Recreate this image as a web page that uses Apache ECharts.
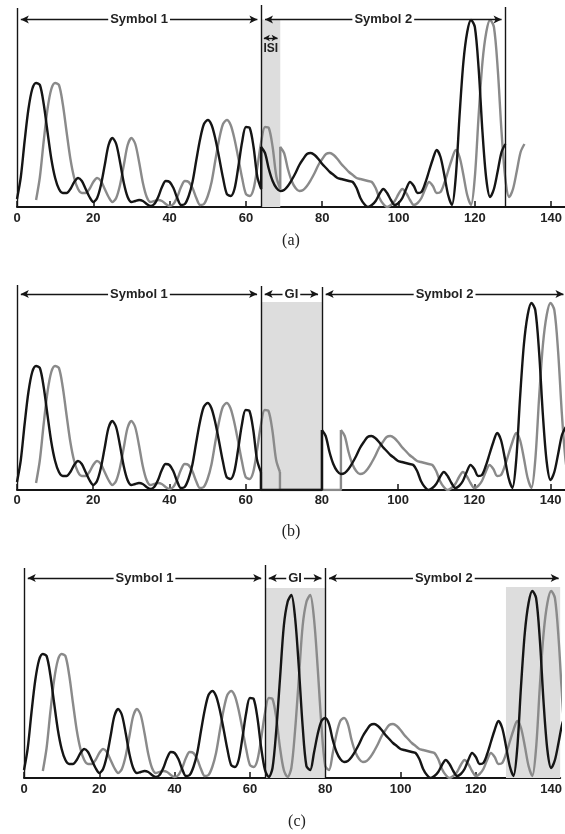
<!DOCTYPE html>
<html>
<head>
<meta charset="utf-8">
<script src="https://cdn.jsdelivr.net/npm/echarts@6/dist/echarts.min.js"></script>
<style>
html, body { margin: 0; background: #fff; }
#chart { width: 565px; height: 834px; }
</style>
</head>
<body>
<div id="chart"></div>
<script>
// received amplitude per sample (one value per sample, 0..64)
const sym1Black = [8, 30, 66, 98, 118, 124, 122, 103, 75, 48, 29, 18, 14, 14, 18, 25, 29, 26, 18, 10,
	5, 9, 22, 42, 62, 69, 63, 45, 24, 10, 5, 6, 7, 6, 3, 1, 3, 10, 20, 26,
	25, 19, 9, 2, 3, 11, 25, 47, 68, 83, 87, 82, 68, 49, 29, 13, 11, 18, 40, 65,
	80, 79, 60, 30, 18]
const sym2Black = [60, 54, 38, 26, 19, 16, 17, 21, 27, 34, 42, 48, 53, 54, 52, 48, 43, 39, 35, 32,
	29, 28, 27, 26, 25, 19, 9, 3, 0, 2, 6, 13, 18, 14, 7, 2, 4, 9, 18, 25,
	21, 14, 15, 24, 36, 48, 57, 50, 32, 12, 2, 30, 92, 145, 175, 187, 180, 138, 75, 28,
	10, 18, 36, 55, 63]
// cyclic prefix copied into the guard interval in (c), samples 64..80
const prefixBlack = [8, 1, 10, 48, 100, 152, 176, 183, 160, 110, 52, 12, 8, 25, 44, 57, 60]

// delayed echo (grey curve)
const sym1Gray = [7, 30, 66, 98, 118, 124, 122, 103, 75, 48, 29, 18, 14, 14, 18, 25, 29, 26, 18, 10,
	5, 9, 22, 42, 62, 69, 63, 45, 24, 10, 5, 6, 7, 6, 3, 1, 3, 10, 20, 26,
	25, 19, 9, 2, 3, 11, 25, 47, 68, 83, 87, 82, 68, 49, 29, 13, 11, 18, 40, 65,
	80, 79, 60, 30, 18]
const sym2Gray = [60, 54, 38, 26, 19, 16, 17, 21, 27, 34, 42, 48, 53, 54, 52, 48, 43, 39, 35, 32,
	29, 28, 27, 26, 25, 19, 9, 3, 0, 2, 6, 13, 18, 14, 7, 2, 4, 9, 18, 25,
	21, 14, 15, 24, 36, 48, 57, 50, 32, 12, 2, 30, 92, 145, 175, 187, 180, 138, 75, 28,
	10, 18, 36, 55, 63]
const prefixGray = [8, 1, 10, 48, 100, 152, 176, 183, 160, 110, 52, 12, 8, 25, 44, 57, 60]

const xTicks = [0, 20, 40, 60, 80, 100, 120, 140]
const SYMBOL_LEN = 64
const GUARD_LEN = 16
const ECHO_DELAY = 5

const BLACK = '#151515'
const GRAY = '#8a8a8a'
const SHADE = '#dddddd'
const FONT = 'Liberation Sans'

// grid geometry per panel: y unit = 1 px
const grids = [
	{ left: 17, top: 0, width: 548, height: 207, max: 143.5 },
	{ left: 17, top: 280, width: 548, height: 210, max: 143.8 },
	{ left: 24, top: 563, width: 541, height: 215, max: 142.4 },
]

/** samples -> [x, y] starting at x = start */
function seg(vals, start) {
	return vals.map((v, i) => [start + i, v])
}

function curve(data, color, idx, smooth, marks) {
	const s = {
		type: 'line',
		xAxisIndex: idx,
		yAxisIndex: idx,
		data: data,
		smooth: smooth ? 0.3 : false,
		symbol: 'none',
		silent: true,
		lineStyle: { color: color, width: 2.4 },
		z: color === BLACK ? 4 : 3,
	}
	if (marks) Object.assign(s, marks)
	return s
}

// vertical marker line
function vline(x, top) {
	return [
		{ coord: [x, 0], symbol: 'none', label: { show: false } },
		{ coord: [x, top], symbol: 'none' },
	]
}
// double-headed dimension arrow with text
function arrow(x0, x1, y, text) {
	const inset = 1
	return [
		{ coord: [x0 + inset, y], symbol: 'arrow', name: text, label: { show: true } },
		{ coord: [x1 - inset, y], symbol: 'arrow' },
	]
}
// small arrow with its text underneath (ISI)
function smallArrow(x0, x1, y, text) {
	const inset = 0.7
	const size = [5, 6]
	return [
		{
			coord: [x0 + inset, y],
			symbol: 'arrow',
			symbolSize: size,
			name: text,
			label: {
				show: true,
				position: 'insideMiddleBottom',
				distance: 5,
				verticalAlign: 'top',
				backgroundColor: 'transparent',
				padding: 0,
				fontSize: 12,
			},
		},
		{ coord: [x1 - inset, y], symbol: 'arrow', symbolSize: size },
	]
}
function shade(x0, x1, top) {
	return [{ coord: [x0, 0] }, { coord: [x1, top] }]
}
function marks(lines, areas) {
	return {
		markLine: {
			silent: true,
			animation: false,
			symbolSize: [6, 8],
			lineStyle: { color: BLACK, width: 1.4, type: 'solid' },
			label: {
				position: 'middle',
				distance: 0,
				verticalAlign: 'middle',
				formatter: (p) => p.name,
				color: '#222',
				fontFamily: FONT,
				fontWeight: 'bold',
				fontSize: 13,
				backgroundColor: '#fff',
				padding: [0, 2],
			},
			emphasis: { disabled: true },
			data: lines,
		},
		markArea: {
			silent: true,
			animation: false,
			itemStyle: { color: SHADE },
			data: areas,
		},
	}
}

const S = SYMBOL_LEN
const G = GUARD_LEN
const D = ECHO_DELAY
const last = (a) => a[a.length - 1]

const series = []

// (a) no guard interval: echo of symbol 1 spills into symbol 2 (ISI)
series.push(
	curve(seg(sym1Black, 0).concat(seg(sym2Black, S)), BLACK, 0, true,
		marks(
			[vline(0, 199), vline(S, 202), vline(2 * S, 200),
				arrow(0, S, 187.5, 'Symbol 1'), arrow(S, 2 * S, 187.5, 'Symbol 2'),
				smallArrow(S, S + D, 169, 'ISI')],
			[shade(S, S + D, 187.5)]
		)),
	curve(seg(sym1Gray, D).concat(seg(sym2Gray, S + D)), GRAY, 0, true)
)

// (b) empty guard interval
series.push(
	curve(seg(sym1Black, 0), BLACK, 1, true,
		marks(
			[vline(0, 205), vline(S, 204), vline(S + G, 203),
				arrow(0, S, 196, 'Symbol 1'), arrow(S, S + G, 196, 'GI'),
				arrow(S + G, grids[1].max + 0.6, 196, 'Symbol 2')],
			[shade(S, S + G, 188)]
		)),
	curve([[S, last(sym1Black)], [S, 0], [S + G, 0], [S + G, sym2Black[0]]], BLACK, 1, false),
	curve(seg(sym2Black, S + G), BLACK, 1, true),
	curve(seg(sym1Gray, D), GRAY, 1, true),
	curve([[S + D, last(sym1Gray)], [S + D, 0], [S + G + D, 0], [S + G + D, sym2Gray[0]]], GRAY, 1, false),
	curve(seg(sym2Gray, S + G + D), GRAY, 1, true)
)

// (c) cyclic prefix in the guard interval
series.push(
	curve(seg(sym1Black.slice(0, S), 0).concat(seg(prefixBlack, S), seg(sym2Black.slice(1), S + G + 1)),
		BLACK, 2, true,
		marks(
			[vline(0, 210), vline(S, 213), vline(S + G, 210),
				arrow(0, S, 200, 'Symbol 1'), arrow(S, S + G, 200, 'GI'),
				arrow(S + G, grids[2].max + 0.6, 200, 'Symbol 2')],
			[shade(S, S + G, 190), shade(2 * S, grids[2].max, 191)]
		)),
	curve(seg(sym1Gray.slice(0, S), D).concat(seg(prefixGray, S + D), seg(sym2Gray.slice(1), S + G + D + 1)),
		GRAY, 2, true)
)

const chart = echarts.init(document.getElementById('chart'), null, { renderer: 'canvas' })
chart.setOption({
	animation: false,
	backgroundColor: '#fff',
	grid: grids.map((g) => ({ left: g.left, top: g.top, width: g.width, height: g.height })),
	xAxis: grids.map((g, i) => ({
		type: 'value',
		gridIndex: i,
		min: 0,
		max: g.max,
		axisLine: { show: true, lineStyle: { color: BLACK, width: 2 } },
		axisTick: { show: true, inside: true, length: 6, customValues: xTicks, lineStyle: { color: BLACK, width: 1.5 } },
		axisLabel: {
			customValues: xTicks,
			color: '#222',
			fontFamily: FONT,
			fontWeight: 'bold',
			fontSize: 13,
			margin: i === 1 ? 4 : 5,
		},
		splitLine: { show: false },
	})),
	yAxis: grids.map((g, i) => ({ type: 'value', gridIndex: i, min: 0, max: g.height, show: false })),
	graphic: [
		{ type: 'text', x: 291, y: 241, style: { text: '(a)', font: '16px "Liberation Serif"', fill: '#222', align: 'center', verticalAlign: 'middle' } },
		{ type: 'text', x: 291, y: 532, style: { text: '(b)', font: '16px "Liberation Serif"', fill: '#222', align: 'center', verticalAlign: 'middle' } },
		{ type: 'text', x: 297, y: 822, style: { text: '(c)', font: '16px "Liberation Serif"', fill: '#222', align: 'center', verticalAlign: 'middle' } },
	],
	series: series,
})
</script>
</body>
</html>
